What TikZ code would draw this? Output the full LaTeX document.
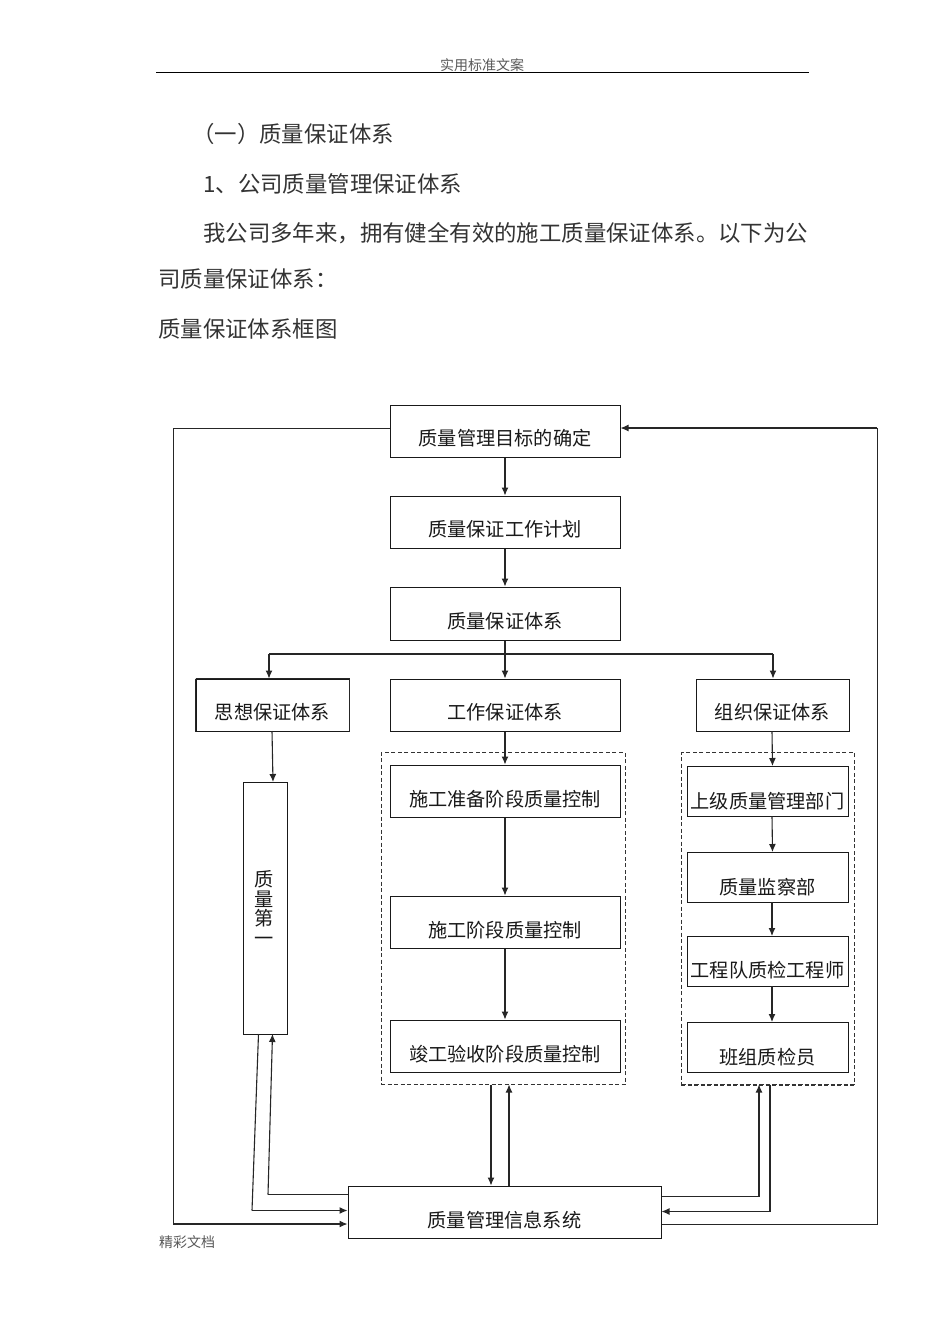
\documentclass[tikz,border=0pt]{standalone}
\usepackage{fontspec}
\setmainfont{Noto Sans CJK SC}
\usetikzlibrary{arrows.meta,calc}
\tikzset{
 x=1pt,y=-1pt,
 bx/.style={draw=black!90,line width=1pt,rectangle,inner sep=0pt,font=\fontsize{19.2pt}{22pt}\selectfont,text=black!85},
 lbl/.style={inner sep=0pt,anchor=center,font=\fontsize{19.2pt}{22pt}\selectfont,text=black!90},
 para/.style={inner sep=0pt,anchor=west,font=\fontsize{22.4pt}{26pt}\selectfont,text=black!80},
 small/.style={inner sep=0pt,anchor=center,font=\fontsize{14pt}{16pt}\selectfont,text=black!65},
 arr/.style={draw=black!85,line width=1.1pt,-{Latex[length=8pt,width=7pt]}},
 ln/.style={draw=black!85,line width=1.1pt},
 dash box/.style={draw=black!80,line width=.8pt,dash pattern=on 4pt off 2.5pt},
}
\newcommand{\bxn}[7][18.5]{% [label offset from bottom] name x1 y1 x2 y2 text
 \node[bx,minimum width=#5pt-#3pt,minimum height=#6pt-#4pt] (#2) at ({(#3+#5)/2},{(#4+#6)/2}) {};
 \node[lbl] (#2t) at ({(#3+#5)/2},{#6-#1}) {#7};}
\begin{document}
\begin{tikzpicture}
\useasboundingbox (0,0) rectangle (950,1344);
\fill[white] (0,0) rectangle (950,1344);
% header and paragraphs
\node[small] (hd) at (482,65) {实用标准文案};
\coordinate (hl) at (156,72.5); \coordinate (hr) at (809,72.5);
\draw[black,line width=1.1pt] (hl) -- (hr);
\node[para] (p1) at (192,134) {（一）质量保证体系};
\node[para] (p2) at (203,184) {1、公司质量管理保证体系};
\node[para] (p3) at (203,233) {我公司多年来，拥有健全有效的施工质量保证体系。以下为公};
\node[para] (p4) at (158,279) {司质量保证体系：};
\node[para] (p5) at (158,329) {质量保证体系框图};
\node[small] (ft) at (187,1242) {精彩文档};
% dashed frames
\node[dash box,minimum width=244pt,minimum height=332pt,inner sep=0pt] (dw) at (503,918.5) {};
\node[dash box,line width=1pt,minimum width=173pt,minimum height=332pt,inner sep=0pt] (do) at (768,918.5) {};
\draw[dash box,line width=1.6pt] (do.south west) -- (do.south east);
% boxes
\bxn{a}{390}{405}{620}{457}{质量管理目标的确定}
\bxn{b}{390}{496}{620}{548}{质量保证工作计划}
\bxn{c}{390}{587}{620}{640}{质量保证体系}
\bxn{s}{196}{679}{349}{731}{思想保证体系}
\bxn{w}{390}{679}{620}{731}{工作保证体系}
\bxn{o}{696}{679}{849}{731}{组织保证体系}
\bxn[17.5]{w1}{390}{765}{620}{817}{施工准备阶段质量控制}
\bxn[17.5]{w2}{390}{896}{620}{948}{施工阶段质量控制}
\bxn[17.5]{w3}{390}{1020}{620}{1072}{竣工验收阶段质量控制}
\bxn[15]{o1}{687}{766}{848}{816}{上级质量管理部门}
\bxn[15]{o2}{687}{852}{848}{902}{质量监察部}
\bxn[15.5]{o3}{687}{936}{848}{986}{工程队质检工程师}
\bxn[15]{o4}{687}{1022}{848}{1072}{班组质检员}
\bxn[17.5]{m}{348}{1186}{661}{1238}{质量管理信息系统}
\draw[black!85,line width=1.6pt] (s.north west) -- (s.north east) (s.north west) -- (s.south west) (s.north east) -- (s.south east);
\node[bx,minimum width=44pt,minimum height=252pt] (q) at (265.5,908) {};
\node[lbl,align=center,font=\fontsize{19.2pt}{19.4pt}\selectfont] (qt) at (264,908) {质\\量\\第\\一};
% helper coordinates
\coordinate (bar) at (505,654);
\coordinate (bl) at (269,654);
\coordinate (br) at (773,654);
% vertical chain
\draw[arr] (a.south) -- (b.north);
\draw[arr] (b.south) -- (c.north);
\draw[arr] (c.south) -- (w.north);
\draw[ln] (bl) -- (br);
\draw[arr] (bl) -- (bl |- s.north);
\draw[arr] (br) -- (br |- o.north);
\draw[arr] (w.south) -- (w1.north);
\draw[arr] (w1.south) -- (w2.north);
\draw[arr] (w2.south) -- (w3.north);
\coordinate (ot) at (772,731); \coordinate (ob) at (772.5,766);
\draw[arr] (ot) -- (ob);
\draw[arr] (772,816) -- (772.5,852);
\draw[arr] (772,902) -- (772,936);
\draw[arr] (772,986) -- (772,1022);
\coordinate (st) at (272,731); \coordinate (qb) at (273,782);
\draw[arr] (st) -- (qb);
% left group
\coordinate (l1a) at (258.5,1034); \coordinate (l1b) at (252,1210.5);
\draw[ln] (l1a) -- (l1b);
\draw[arr] (l1b) -- (l1b -| m.west);
\coordinate (l2a) at (268,1194.5); \coordinate (l2b) at (272.5,1034);
\draw[ln] (l2a -| m.west) -- (l2a);
\draw[arr] (l2a) -- (l2b);
% big left loop
\coordinate (lt) at (173,428.5); \coordinate (lb) at (173,1224);
\draw[ln,line width=.9pt] (a.west |- lt) -- (lt) -- (lb);
\draw[arr] (lb) -- (lb -| m.west);
% middle pair
\coordinate (mda) at (491,1084.5); \coordinate (mua) at (509,1084.5);
\draw[arr] (mda) -- (mda |- m.north);
\draw[arr] (mua |- m.north) -- (mua);
% right pair
\coordinate (r1) at (759,1196.5); \coordinate (r1t) at (759,1084.5);
\draw[ln] (r1 -| m.east) -- (r1);
\draw[arr] (r1) -- (r1t);
\coordinate (r2) at (770,1211.5); \coordinate (r2t) at (770,1084.5);
\draw[ln] (r2t) -- (r2);
\draw[arr] (r2) -- (r2 -| m.east);
% big right loop
\coordinate (rb) at (877,1224.5); \coordinate (rt) at (877,428);
\draw[ln,line width=.9pt] (rb -| m.east) -- (rb) -- (rt);
\draw[arr] (rt) -- (rt -| a.east);
\end{tikzpicture}
\end{document}
